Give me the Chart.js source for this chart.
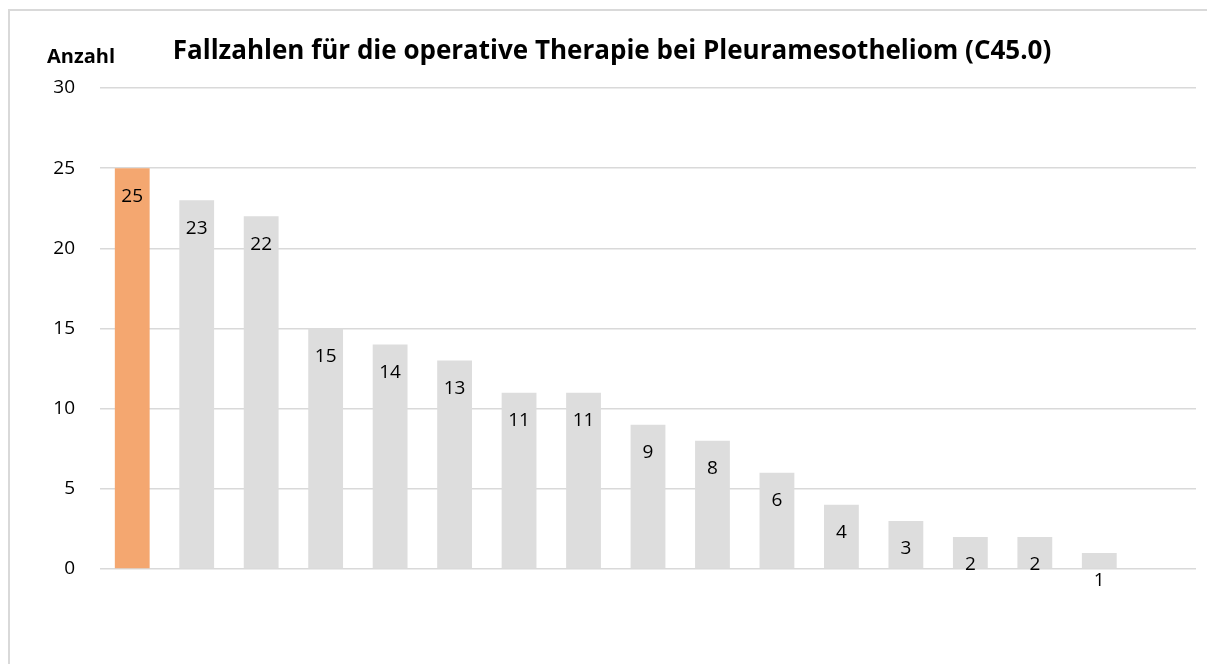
<!DOCTYPE html>
<html>
<head>
<meta charset="utf-8">
<script src="https://cdn.jsdelivr.net/npm/chart.js@4"></script>
<style>
  html, body { margin: 0; padding: 0; background: #fff; }
  #frame { position: absolute; left: 8px; top: 9px; width: 1220px; height: 680px;
           border: 2px solid #d9d9d9; box-sizing: border-box; }
  #wrap { position: absolute; left: 0; top: 0; width: 1207px; height: 664px; }
</style>
</head>
<body>
<div id="frame"></div>
<div id="wrap"><canvas id="fallChart"></canvas></div>
<script>
// Kliniken (anonym), sortiert nach Fallzahl; letzte Kategorie bleibt leer
const categories = ['1','2','3','4','5','6','7','8','9','10','11','12','13','14','15','16','17'];
const fallzahlen = [25, 23, 22, 15, 14, 13, 11, 11, 9, 8, 6, 4, 3, 2, 2, 1, null];
const yTicks = [0, 5, 10, 15, 20, 25, 30];
const chartTitle = 'Fallzahlen für die operative Therapie bei Pleuramesotheliom (C45.0)';
const yTitle = 'Anzahl';

const barColors = fallzahlen.map((v, i) => i === 0 ? '#f4a770' : '#dddddd');
const fontFam = '"Open Sans", "Noto Sans", sans-serif';

// Werte innerhalb der Balken, knapp unter der Oberkante
const valueLabels = {
  id: 'valueLabels',
  afterDatasetsDraw(chart) {
    const ctx = chart.ctx;
    const meta = chart.getDatasetMeta(0);
    ctx.save();
    ctx.font = '19px ' + fontFam;
    ctx.fillStyle = '#000';
    ctx.textAlign = 'center';
    ctx.textBaseline = 'middle';
    meta.data.forEach((bar, i) => {
      const v = fallzahlen[i];
      if (v == null) return;
      ctx.fillText(String(v), bar.x, bar.y + 28);
    });
    ctx.restore();
  }
};

// Titel und Achsentitel
const headings = {
  id: 'headings',
  afterDraw(chart) {
    const ctx = chart.ctx;
    ctx.save();
    ctx.fillStyle = '#000';
    ctx.textBaseline = 'middle';
    ctx.textAlign = 'center';
    ctx.font = 'bold 26px ' + fontFam;
    ctx.fillText(chartTitle, 612, 52);
    ctx.font = 'bold 20px ' + fontFam;
    ctx.fillText(yTitle, 81, 57);
    ctx.restore();
  }
};

new Chart(document.getElementById('fallChart').getContext('2d'), {
  type: 'bar',
  data: {
    labels: categories,
    datasets: [{
      data: fallzahlen,
      backgroundColor: barColors,
      borderWidth: 0,
      categoryPercentage: 1,
      barPercentage: 0.54
    }]
  },
  options: {
    responsive: true,
    maintainAspectRatio: false,
    animation: false,
    layout: { padding: { left: 0, right: 11, top: 88, bottom: 95 } },
    plugins: {
      legend: { display: false },
      tooltip: { enabled: false },
      title: { display: false }
    },
    scales: {
      x: { display: false },
      y: {
        min: 0,
        max: 30,
        afterBuildTicks(scale) { scale.ticks = yTicks.map(v => ({ value: v })); },
        afterFit(scale) { scale.width = 100; },
        border: { display: false },
        grid: { color: '#d9d9d9', lineWidth: 1.5, drawTicks: false },
        ticks: {
          color: '#000',
          padding: 25,
          font: { family: fontFam, size: 19 }
        }
      }
    }
  },
  plugins: [valueLabels, headings]
});
</script>
</body>
</html>
